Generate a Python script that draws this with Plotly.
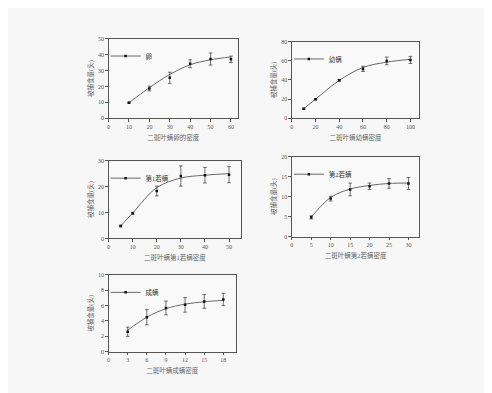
import plotly.graph_objects as go

# ---------------- data ----------------
# Panel 1: 卵 (egg)
egg_x = [10, 20, 30, 40, 50, 60]
egg_y = [9.8, 18.7, 25.4, 34.2, 37.2, 37.0]
egg_err = [0.3, 1.5, 3.5, 2.5, 3.8, 2.0]
egg_fit = [9.8, 19.2, 27.5, 33.6, 36.7, 38.5]

# Panel 2: 幼螨 (larva)
larva_x = [10, 20, 40, 60, 80, 100]
larva_y = [10.0, 19.8, 39.6, 51.5, 59.8, 60.8]
larva_err = [0.4, 0.6, 0.8, 2.7, 4.0, 3.7]
larva_fit = [10.0, 20.0, 39.5, 53.0, 58.5, 61.5]

# Panel 3: 第1若螨 (protonymph)
pn1_x = [5, 10, 20, 30, 40, 50]
pn1_y = [4.8, 9.7, 18.3, 24.1, 24.4, 24.6]
pn1_err = [0.3, 0.4, 1.9, 3.9, 3.0, 3.1]
pn1_fit = [4.8, 9.8, 19.6, 23.3, 24.4, 25.0]

# Panel 4: 第2若螨 (deutonymph)
pn2_x = [5, 10, 15, 20, 25, 30]
pn2_y = [4.8, 9.5, 11.8, 12.6, 13.3, 13.3]
pn2_err = [0.4, 0.6, 1.6, 0.8, 1.2, 1.5]
pn2_fit = [4.9, 9.8, 11.9, 12.8, 13.3, 13.4]

# Panel 5: 成螨 (adult)
adult_x = [3, 6, 9, 12, 15, 18]
adult_y = [2.6, 4.5, 5.7, 6.1, 6.55, 6.8]
adult_err = [0.6, 1.0, 0.9, 0.95, 0.9, 0.8]
adult_fit = [2.8, 4.5, 5.6, 6.2, 6.5, 6.7]

names = ["卵", "幼螨", "第1若螨", "第2若螨", "成螨"]
x_titles = ["二斑叶螨卵的密度", "二斑叶螨幼螨密度", "二斑叶螨第1若螨密度",
            "二斑叶螨第2若螨密度", "二斑叶螨成螨密度"]
y_title = "被捕食量(头)"

x_ticks = [[0, 10, 20, 30, 40, 50, 60], [0, 20, 40, 60, 80, 100],
           [0, 10, 20, 30, 40, 50], [0, 5, 10, 15, 20, 25, 30],
           [0, 3, 6, 9, 12, 15, 18]]
y_ticks = [[0, 10, 20, 30, 40, 50], [0, 20, 40, 60, 80],
           [0, 10, 20, 30], [0, 5, 10, 15, 20],
           [0, 2, 4, 6, 8, 10]]

# ---------------- layout geometry ----------------
W, H = 492, 393
boxes = [  # (left, right, top, bottom) in px
    (99, 229, 28, 109),
    (283, 411, 31, 109),
    (99, 232, 152, 231),
    (283, 411, 148, 229),
    (99, 227, 268, 346),
]
x_ranges = [[0, 63.5], [0, 107.5], [0, 55], [0, 32.8], [0, 20]]

series = [
    (egg_x, egg_y, egg_err, egg_fit),
    (larva_x, larva_y, larva_err, larva_fit),
    (pn1_x, pn1_y, pn1_err, pn1_fit),
    (pn2_x, pn2_y, pn2_err, pn2_fit),
    (adult_x, adult_y, adult_err, adult_fit),
]

FONT = "Liberation Serif, Noto Sans CJK SC, serif"
fig = go.Figure()
layout = dict(
    width=W, height=H,
    margin=dict(l=0, r=0, t=0, b=0),
    paper_bgcolor="#f7f7f7",
    plot_bgcolor="#f9f9f9",
    font=dict(family=FONT, size=6, color="#555"),
    showlegend=True,
)

for i, (xs, ys, errs, fit) in enumerate(series):
    k = "" if i == 0 else str(i + 1)
    xa, ya = "x" + k, "y" + k
    lg = "legend" + k
    # fitted curve
    fig.add_trace(go.Scatter(
        x=xs, y=fit, mode="lines", line=dict(color="#444", width=0.8, shape="spline"),
        xaxis=xa, yaxis=ya, showlegend=False, hoverinfo="skip"))
    # observed points with error bars
    fig.add_trace(go.Scatter(
        x=xs, y=ys, mode="markers",
        marker=dict(symbol="square", size=2.5, color="#111"),
        error_y=dict(type="data", array=errs, visible=True, color="#333",
                     thickness=0.7, width=1.8),
        xaxis=xa, yaxis=ya, showlegend=False))
    # legend entry
    fig.add_trace(go.Scatter(
        x=[None], y=[None], mode="lines+markers", name=names[i],
        line=dict(color="#444", width=0.8),
        marker=dict(symbol="square", size=2.5, color="#111"),
        xaxis=xa, yaxis=ya, legend=lg, showlegend=True))

    l, r, t, b = boxes[i]
    axis_common = dict(
        showline=True, linecolor="#555", linewidth=0.8, mirror=True,
        ticks="outside", ticklen=2.5, tickwidth=0.7, tickcolor="#555",
        showgrid=False, zeroline=False,
        tickfont=dict(family=FONT, size=6, color="#555"),
    )
    layout["xaxis" + k] = dict(
        axis_common, domain=[l / W, r / W], range=x_ranges[i], anchor=ya,
        tickvals=x_ticks[i],
        title=dict(text=x_titles[i], font=dict(family=FONT, size=6.5, color="#666"),
                   standoff=6),
    )
    layout["yaxis" + k] = dict(
        axis_common, domain=[1 - b / H, 1 - t / H], range=[0, y_ticks[i][-1]],
        anchor=xa, tickvals=y_ticks[i],
        title=dict(text=y_title, font=dict(family=FONT, size=6.5, color="#666"),
                   standoff=3),
    )
    layout[lg] = dict(
        x=(l - 3) / W, y=1 - (t + 3) / H, xanchor="left", yanchor="top",
        bgcolor="rgba(0,0,0,0)", borderwidth=0,
        font=dict(family=FONT, size=6.5, color="#333"),
        itemwidth=30, tracegroupgap=0,
    )

fig.update_layout(**layout)
fig.write_html("out.html")
